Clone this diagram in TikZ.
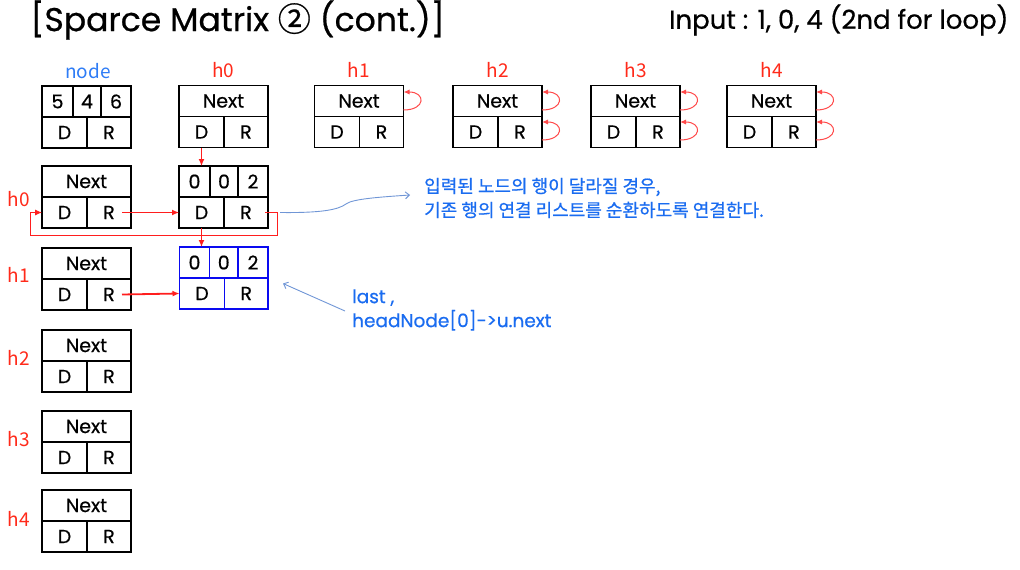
\documentclass[tikz,border=0pt]{standalone}
\usepackage{fontspec}
\setmainfont{Poppins}[FakeBold=0.6]
\newfontfamily\krfont{Noto Sans CJK KR}
\newfontfamily\krnote[FakeBold=0.8]{Noto Sans CJK KR}
\usetikzlibrary{arrows.meta,positioning}
\definecolor{HeadRed}{HTML}{FF2A1A}
\definecolor{LinkRed}{HTML}{FF1E1E}
\definecolor{LoopRed}{HTML}{FF4A4A}
\definecolor{NodeBlue}{HTML}{2E7CF6}
\definecolor{NoteBlue}{HTML}{1A6CF0}
\definecolor{BoxBlue}{HTML}{0A0AF0}
\definecolor{ThinBlue}{HTML}{7096D6}

\begin{document}
\begin{tikzpicture}[x=1pt, y=-1pt,
  cell/.style={draw, line width=1.8pt, outer sep=0pt, inner sep=0pt, minimum height=31pt, font=\fontsize{19}{19}\selectfont},
  bluecell/.style={cell, draw=BoxBlue},
  nextcell/.style={cell, minimum width=89pt},
  dcell/.style={cell, minimum width=45pt},
  rcell/.style={cell, minimum width=44pt},
  headlbl/.style={text=HeadRed, font=\krfont\fontsize{19}{19}\selectfont},
  note/.style={text=NoteBlue, align=left, anchor=west, inner sep=0pt},
  link/.style={-{Latex[length=7pt,width=6pt]}, LinkRed, line width=1.2pt},
  selfloop/.style={-{Latex[length=6pt,width=5pt]}, LoopRed, line width=1pt},
  thinarrow/.style={-{Straight Barb[length=4pt,width=7pt]}, ThinBlue, line width=0.9pt}
]
\useasboundingbox (0,0) rectangle (1020,570);

\node[anchor=west, font=\fontsize{33}{33}\selectfont] (title) at (27,20) {[Sparce Matrix {\krnote ②} (cont.)]};
\node[anchor=east, font=\fontsize{26}{26}\selectfont] (input) at (1012,20) {Input : 1, 0, 4 (2nd for loop)};

% node box
\node[cell, minimum width=31pt, anchor=north west] (nd5) at (42,86) {5};
\node[cell, minimum width=28pt, right=0pt of nd5] (nd4) {4};
\node[cell, minimum width=30pt, right=0pt of nd4] (nd6) {6};
\node[dcell, anchor=north west] (ndD) at (nd5.south west) {D};
\node[rcell, anchor=north east] (ndR) at (nd6.south east) {R};
\node[headlbl, text=NodeBlue] (ndlbl) at (88,71) {node};

% head nodes, top row
\foreach \i/\x in {0/223.5,1/359,2/497.5,3/635.5,4/771.5}{
  \node[nextcell] (tn\i) at (\x,101) {Next};
  \node[dcell, anchor=north west] (td\i) at (tn\i.south west) {D};
  \node[rcell, anchor=north east] (tr\i) at (tn\i.south east) {R};
  \node[headlbl] (tl\i) at (\x,70) {h\i};
}
\foreach \i in {1,...,4}
  \draw[selfloop] ([yshift=-9pt]tn\i.east) to[out=0,in=0,looseness=3.2] ([yshift=9pt]tn\i.east);
\foreach \i in {2,...,4}
  \draw[selfloop] ([yshift=-8pt]tr\i.east) to[out=0,in=0,looseness=3.2] ([yshift=10pt]tr\i.east);

% head nodes, left column
\foreach \i/\y/\ly in {0/181.5/199,1/263.5/275,2/345.5/358,3/426.5/439,4/505.5/519}{
  \node[nextcell] (ln\i) at (86.5,\y) {Next};
  \node[dcell, anchor=north west] (ld\i) at (ln\i.south west) {D};
  \node[rcell, anchor=north east] (lr\i) at (ln\i.south east) {R};
  \node[headlbl] (ll\i) at (19,\ly) {h\i};
}

% entry nodes
\node[cell, minimum width=31pt, anchor=north west] (a0) at (179,166) {0};
\node[cell, minimum width=28pt, right=0pt of a0] (a1) {0};
\node[cell, minimum width=30pt, right=0pt of a1] (a2) {2};
\node[dcell, anchor=north west] (ad) at (a0.south west) {D};
\node[rcell, anchor=north east] (ar) at (a2.south east) {R};

\node[bluecell, minimum width=30pt, anchor=north west] (b0) at (179.5,247) {0};
\node[bluecell, minimum width=28.5pt, right=0pt of b0] (b1) {0};
\node[bluecell, minimum width=30pt, right=0pt of b1] (b2) {2};
\node[bluecell, minimum width=45pt, anchor=north west] (bd) at (b0.south west) {D};
\node[bluecell, minimum width=43.5pt, anchor=north east] (br) at (b2.south east) {R};

% notes
\node[note, font=\krnote\fontsize{18}{24}\selectfont] (noteA) at (424,198) {입력된 노드의 행이 달라질 경우,\\기존 행의 연결 리스트를 순환하도록 연결한다.};
\node[note, font=\fontsize{18.5}{24}\selectfont] (noteB) at (352,310) {last ,\\headNode[0]->u.next};

% links
\draw[link] (td0.south) -- (td0.south |- a0.north);
\draw[link] ([xshift=-9pt]lr0.east) -- (ad.west);
\draw[link, line width=1.8pt] (ad.south) -- (ad.south |- b0.north);
\draw[link, line width=1.8pt] ([xshift=-9pt]lr1.east) -- (bd.west);
\draw[link, line width=0.9pt] ([xshift=-3pt]ar.east) -- ++(12,0) -- ++(0,23) -| ([xshift=-12pt]ld0.west) -- (ld0.west);

\draw[thinarrow] ([xshift=12pt]ar.east) .. controls (320,213) and (338,210) .. (346,204)
  .. controls (352,199) and (380,197) .. ([xshift=-14pt,yshift=3pt]noteA.west);
\draw[thinarrow] ([xshift=-7pt,yshift=-1pt]noteB.west) -- ([xshift=15pt,yshift=10pt]br.east);
\end{tikzpicture}
\end{document}
